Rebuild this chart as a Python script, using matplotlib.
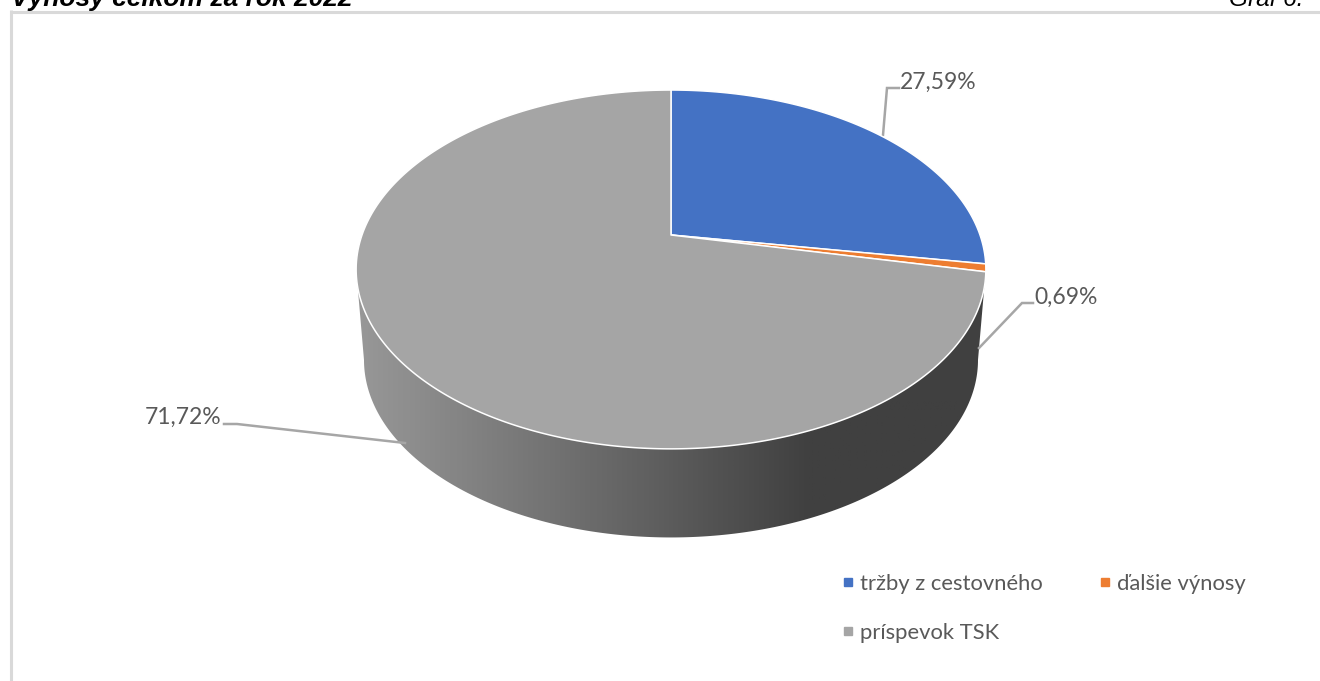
import numpy as np
import matplotlib
matplotlib.use("Agg")
import matplotlib.pyplot as plt
from matplotlib.colors import LinearSegmentedColormap
from matplotlib.lines import Line2D
from matplotlib.patches import Polygon

# data
categories = ["tržby z cestovného", "ďalšie výnosy", "príspevok TSK"]
shares = [27.59, 0.69, 71.72]
colors = ["#4472C4", "#ED7D31", "#A5A5A5"]

# geometry of the tilted pie, in pixels
apex_x, apex_y = 671, 235
persp = 0.192
a = 309
b = 172.8


def project(theta):
    # theta clockwise from 12 o'clock, perspective puts the apex above the ellipse centre
    u = np.sin(theta)
    v = np.cos(theta)
    d = 1 + persp * v
    return apex_x + a * u / d, apex_y - b * v / d


fig = plt.figure(figsize=(13.2, 6.81), dpi=100)
ax = fig.add_axes([0, 0, 1, 1])
ax.set_xlim(0, 1320)
ax.set_ylim(681, 0)
ax.axis("off")

# frame of the chart object
frame = dict(color="#D9D9D9", lw=2.2, solid_capstyle="butt")
ax.plot([9.5, 1320], [11.5, 11.5], **frame)
ax.plot([10.5, 10.5], [10, 681], **frame)

# heading, cut off by the top of the picture
ax.text(11, 6, "Výnosy celkom za rok 2022", family="Liberation Sans", weight="bold",
        style="italic", fontsize=19, color="black", va="baseline", ha="left")
ax.text(1303, 6, "Graf 6.", family="Liberation Sans", style="italic",
        fontsize=17.6, color="black", va="baseline", ha="right")

# side wall: lower half of top rim + smaller ellipse shifted down
t = np.linspace(0, 2 * np.pi, 721)
rim_x, rim_y = project(t)
mid_y = (rim_y.min() + rim_y.max()) / 2
wall_h = 90.5
low_w = 307
low_h = 177.5
front = np.linspace(np.pi / 2, 3 * np.pi / 2, 241)
low_x = apex_x + low_w * np.sin(front)
low_y = mid_y + wall_h - low_h * np.cos(front)
left = np.argmin(rim_x)
right = np.argmax(rim_x)
wall_pts = np.column_stack([
    np.r_[rim_x[right], low_x, rim_x[left]],
    np.r_[rim_y[right], low_y, rim_y[left]],
])
wall = Polygon(wall_pts, closed=True, fc="none", ec="none")
ax.add_patch(wall)
wall_cmap = LinearSegmentedColormap.from_list(
    "wall", [(0, "#989898"), (0.48, "#5E5E5E"), (0.72, "#404040"), (1, "#404040")])
grad = np.linspace(0, 1, 512).reshape(1, -1)
img = ax.imshow(grad, cmap=wall_cmap, extent=[356, 986, 540, 260], aspect="auto", zorder=1)
img.set_clip_path(wall)
ax.set_xlim(0, 1320)
ax.set_ylim(681, 0)

# top face, slices start at 12 o'clock and run clockwise
start = 0
for share, col in zip(shares, colors):
    stop = start + share / 100 * 2 * np.pi
    th = np.linspace(start, stop, max(int(share * 6), 8))
    x, y = project(th)
    pts = np.column_stack([np.r_[apex_x, x], np.r_[apex_y, y]])
    ax.add_patch(Polygon(pts, closed=True, fc=col, ec="white", lw=1.1, zorder=3, joinstyle="round"))
    start = stop

# data labels and leaders
leaders = [
    ([883, 887, 899], [135, 88, 88], (900, 82), "left"),
    ([979, 1022, 1033], [348, 303, 303], (1034, 297), "left"),
    ([405, 237, 224], [443, 424, 424], (221, 417), "right"),
]
for share, (lx, ly, pos, ha) in zip(shares, leaders):
    ax.plot(lx, ly, color="#A6A6A6", lw=1.8, zorder=2, solid_joinstyle="miter")
    ax.text(pos[0], pos[1], f"{share:.2f}%".replace(".", ","), family="Lato", fontsize=16.5,
            color="#595959", ha=ha, va="center")

# legend, column-wise so order is swapped to get the reference rows
handles = [Line2D([], [], ls="", marker="s", ms=5.5, color=c, label=n)
           for c, n in zip(colors, categories)]
leg = ax.legend(handles=[handles[0], handles[2], handles[1]], ncol=2, frameon=False,
                loc="upper left", bbox_to_anchor=(841 / 1320, 1 - 574 / 681),
                prop={"family": "Lato", "size": 15.8}, labelcolor="#595959",
                handlelength=0.6, handletextpad=0.25, columnspacing=2.55, labelspacing=1.32,
                borderpad=0, borderaxespad=0)

fig.savefig("out.png", dpi=100, facecolor="white")
